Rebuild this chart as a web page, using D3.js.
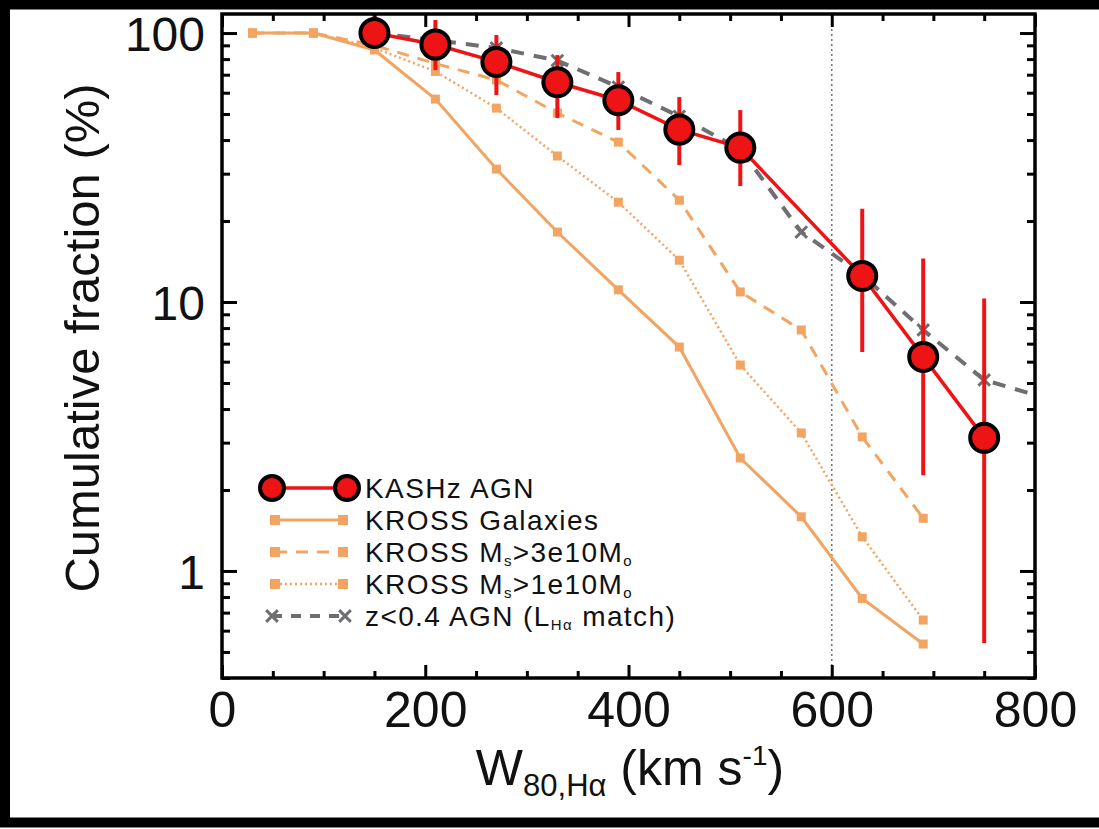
<!DOCTYPE html>
<html><head><meta charset="utf-8">
<script src="https://cdn.jsdelivr.net/npm/d3@7"></script>
<style>body{margin:0;background:#fff}svg{display:block}text{font-family:"Liberation Sans",Arial,Helvetica,sans-serif;fill:#111}</style>
</head><body><svg id="c" width="1099" height="829"></svg>
<script>
// ---- data ----
const kashzW = [150,210,270,330,390,450,510,630,690,750];
const kashzF = [100,90.6,78.1,65.6,56.25,43.75,37.5,12.5,6.25,3.125];
const kashzHi = [117,111.8,98.3,82.8,71.6,57.8,51.7,22.2,14.5,10.3];
const kashzLo = [88,72.8,58.8,48.3,43.6,32.3,27.0,6.52,2.27,0.54];

const krossW = [30,90,150,210,270,330,390,450,510,570,630,690];
const krossAll = [100,100,86.5,56.8,31.2,18.2,11.1,6.8,2.63,1.59,0.79,0.535];
const kross3e10 = [100,100,90,77,66.9,50.4,39.3,23.9,10.9,7.87,3.15,1.57];
const kross1e10 = [100,100,88,72,52.6,34.9,23.5,14.3,5.83,3.26,1.34,0.657];

const lowzW = [150,210,270,330,390,450,510,570,630,690,750,810];
const lowzF = [100,94,88,79,63,49,37,18.2,12.6,7.87,5.13,4.4];

const xTickVals = [0,200,400,600,800];
const yTickVals = [1,10,100];
const legendLabels = ["KASHz AGN","KROSS Galaxies","KROSS M_s>3e10M_o","KROSS M_s>1e10M_o","z<0.4 AGN (L_Hα match)"];

// ---- layout ----
const svg = d3.select("#c");
const L=222,R=1035,T=14,B=678;
const x = d3.scaleLinear().domain([0,800]).range([L,R]);
const y = d3.scaleLog().domain([0.4,117.7]).range([B,T]);
const RED="#ee1416", ORANGE="#f2a462", GRAY="#6f6f73";

// outer black border (right side cropped)
svg.append("rect").attr("x",5).attr("y",4.5).attr("width",1200).attr("height",818)
  .attr("fill","none").attr("stroke","#000").attr("stroke-width",10);

svg.append("clipPath").attr("id","pc").append("rect")
  .attr("x",L).attr("y",T).attr("width",R-L).attr("height",B-T);
const g = svg.append("g").attr("clip-path","url(#pc)");

// vertical dotted reference line
g.append("line").attr("x1",x(600)).attr("x2",x(600)).attr("y1",T).attr("y2",B)
  .attr("stroke","#777").attr("stroke-width",1.6).attr("stroke-dasharray","2,3");

const line = d3.line().x(d=>x(d[0])).y(d=>y(d[1]));
function series(ws, vs, dash, color, width){
  const pts = ws.map((w,i)=>[w,vs[i]]);
  g.append("path").attr("d",line(pts)).attr("fill","none").attr("stroke",color)
   .attr("stroke-width",width).attr("stroke-dasharray",dash);
  return pts;
}
function squares(pts){
  g.selectAll(null).data(pts).enter().append("rect")
   .attr("x",d=>x(d[0])-4.5).attr("y",d=>y(d[1])-4.5).attr("width",9).attr("height",9)
   .attr("fill",ORANGE);
}
const pAll = series(krossW,krossAll,null,ORANGE,3);
const p3 = series(krossW,kross3e10,"12,9",ORANGE,3);
const p1 = series(krossW,kross1e10,"2,3",ORANGE,2.5);
squares(pAll); squares(p3); squares(p1);

// low-z AGN
const pz = series(lowzW,lowzF,"13,10",GRAY,4);
const crossP = d3.symbol().type(d3.symbolX).size(90);
g.selectAll(null).data(pz).enter().append("path")
  .attr("d",crossP).attr("transform",d=>`translate(${x(d[0])},${y(d[1])})`)
  .attr("fill",GRAY).attr("stroke",GRAY).attr("stroke-width",3);

// KASHz
g.selectAll(null).data(kashzW).enter().append("line")
  .attr("x1",d=>x(d)).attr("x2",d=>x(d))
  .attr("y1",(d,i)=>y(kashzHi[i])).attr("y2",(d,i)=>y(kashzLo[i]))
  .attr("stroke",RED).attr("stroke-width",4);
series(kashzW,kashzF,null,RED,3.5);
g.selectAll(null).data(kashzW).enter().append("circle")
  .attr("cx",d=>x(d)).attr("cy",(d,i)=>y(kashzF[i])).attr("r",14)
  .attr("fill",RED).attr("stroke","#000").attr("stroke-width",4);

// ---- axes ----
const minorX = d3.range(0,801,50).filter(v=>v%200!==0);
const minorY = [];
[0.1,1,10].forEach(dec=>{for(let k=2;k<=9;k++){const v=k*dec; if(v>=0.4&&v<=117.7) minorY.push(v);}});

function axisStyle(sel){ sel.select(".domain").remove(); sel.selectAll("line").attr("stroke","#000").attr("stroke-width",3); }
const axB = svg.append("g").attr("transform",`translate(0,${B})`)
  .call(d3.axisBottom(x).tickValues(xTickVals).tickSize(-13).tickPadding(8).tickFormat(d3.format("d")));
axB.call(axisStyle); axB.selectAll("text").attr("font-size",50).attr("dy","0.82em");
svg.append("g").attr("transform",`translate(0,${B})`)
  .call(d3.axisBottom(x).tickValues(minorX).tickSize(-7).tickFormat("")).call(axisStyle);
svg.append("g").attr("transform",`translate(0,${T})`)
  .call(d3.axisTop(x).tickValues(xTickVals).tickSize(-13).tickFormat("")).call(axisStyle);
svg.append("g").attr("transform",`translate(0,${T})`)
  .call(d3.axisTop(x).tickValues(minorX).tickSize(-7).tickFormat("")).call(axisStyle);

const axL = svg.append("g").attr("transform",`translate(${L},0)`)
  .call(d3.axisLeft(y).tickValues(yTickVals).tickSize(-15).tickPadding(17).tickFormat(d3.format("d")));
axL.call(axisStyle); axL.selectAll("text").attr("font-size",48).attr("dy","0.36em");
svg.append("g").attr("transform",`translate(${L},0)`)
  .call(d3.axisLeft(y).tickValues(minorY).tickSize(-8).tickFormat("")).call(axisStyle);
svg.append("g").attr("transform",`translate(${R},0)`)
  .call(d3.axisRight(y).tickValues(yTickVals).tickSize(-15).tickFormat("")).call(axisStyle);
svg.append("g").attr("transform",`translate(${R},0)`)
  .call(d3.axisRight(y).tickValues(minorY).tickSize(-8).tickFormat("")).call(axisStyle);

// frame
svg.append("rect").attr("x",L).attr("y",T).attr("width",R-L).attr("height",B-T)
  .attr("fill","none").attr("stroke","#000").attr("stroke-width",3.5);

// titles
const xt = svg.append("text").attr("x",630).attr("y",785).attr("text-anchor","middle").attr("font-size",50);
xt.append("tspan").text("W");
xt.append("tspan").attr("font-size",31).attr("dy",11).text("80,Hα");
xt.append("tspan").attr("dy",-11).text(" (km s");
xt.append("tspan").attr("font-size",28).attr("dy",-20).text("-1");
xt.append("tspan").attr("dy",20).text(")");

svg.append("text").attr("transform","translate(99,338) rotate(-90)").attr("text-anchor","middle")
  .attr("font-size",49).text("Cumulative fraction (%)");

// legend
const legY = [488,520,552,584,616];
const lg = svg.append("g");
const lx1=272, lx2=347, tx=365, fs=28;
lg.append("line").attr("x1",lx1).attr("x2",lx2).attr("y1",legY[0]).attr("y2",legY[0]).attr("stroke",RED).attr("stroke-width",3.5);
[lx1,lx2].forEach(cx=>lg.append("circle").attr("cx",cx).attr("cy",legY[0]).attr("r",12).attr("fill",RED).attr("stroke","#000").attr("stroke-width",4));
[[null,3],["12,9",3],["2,3",2.5]].forEach((s,i)=>{
  const yy=legY[i+1];
  lg.append("line").attr("x1",lx1+3).attr("x2",lx2-4).attr("y1",yy).attr("y2",yy).attr("stroke",ORANGE).attr("stroke-width",s[1]).attr("stroke-dasharray",s[0]);
  [lx1+3,lx2-4].forEach(cx=>lg.append("rect").attr("x",cx-5).attr("y",yy-5).attr("width",10).attr("height",10).attr("fill",ORANGE));
});
lg.append("line").attr("x1",lx1).attr("x2",lx2-2).attr("y1",legY[4]).attr("y2",legY[4]).attr("stroke",GRAY).attr("stroke-width",4).attr("stroke-dasharray","10,9");
[lx1,lx2-2].forEach(cx=>lg.append("path").attr("d",crossP).attr("transform",`translate(${cx},${legY[4]})`).attr("fill",GRAY).attr("stroke",GRAY).attr("stroke-width",3));

function legText(i, parts){
  const t = lg.append("text").attr("x",tx).attr("y",legY[i]+10).attr("font-size",fs).attr("letter-spacing",1.4);
  parts.forEach(p=>{
    const ts=t.append("tspan").text(p[0]);
    if(p[1]==="sub") ts.attr("font-size",15).attr("dy",4);
    if(p[1]==="back") ts.attr("dy",-4);
  });
}
legText(0,[[legendLabels[0]]]);
legText(1,[[legendLabels[1]]]);
legText(2,[["KROSS M"],["s","sub"],[">3e10M","back"],["o","sub"]]);
legText(3,[["KROSS M"],["s","sub"],[">1e10M","back"],["o","sub"]]);
legText(4,[["z<0.4 AGN (L"],["Hα","sub"],[" match)","back"]]);
</script></body></html>
